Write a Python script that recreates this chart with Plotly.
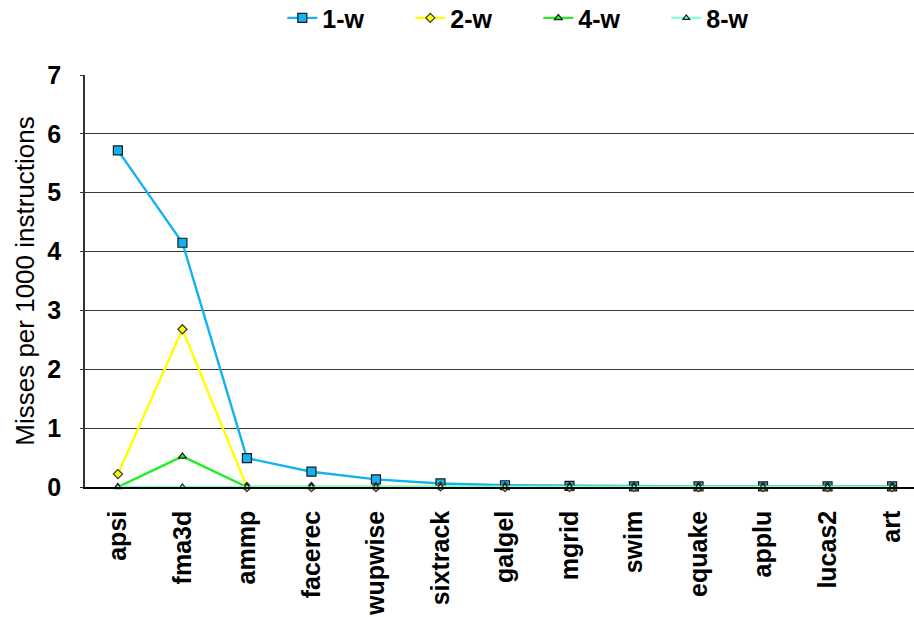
import plotly.graph_objects as go

benchmarks = ["apsi", "fma3d", "ammp", "facerec", "wupwise", "sixtrack", "galgel",
              "mgrid", "swim", "equake", "applu", "lucas2", "art"]

miss_1w = [5.72, 4.15, 0.49, 0.26, 0.13, 0.06, 0.03, 0.02, 0.01, 0.01, 0.01, 0.01, 0.01]
miss_2w = [0.22, 2.68, 0.0, 0.0, 0.0, 0.01, 0.0, 0.0, 0.0, 0.0, 0.0, 0.0, 0.0]
miss_4w = [0.0, 0.52, 0.0, 0.0, 0.0, 0.0, 0.0, 0.0, 0.0, 0.0, 0.0, 0.0, 0.0]
miss_8w = [0.0, 0.0, 0.0, 0.0, 0.0, 0.0, 0.0, 0.0, 0.0, 0.0, 0.0, 0.0, 0.0]

y_ticks = [0, 1, 2, 3, 4, 5, 6, 7]

FONT = "Liberation Sans, Arial, sans-serif"

series = [
    ("1-w", miss_1w, "#12B3F0", "square", 9, "#1a1a1a"),
    ("2-w", miss_2w, "#FFFF00", "diamond", 7, "#333333"),
    ("4-w", miss_4w, "#22EE22", "triangle-up", 7, "#1a1a1a"),
    ("8-w", miss_8w, "#80FFE0", "triangle-up", 6, "#1a1a1a"),
]

fig = go.Figure()
for name, vals, color, symbol, size, edge in series:
    fig.add_trace(go.Scatter(
        x=list(range(len(benchmarks))), y=vals, name=name, mode="lines+markers",
        line=dict(color=color, width=2.4),
        marker=dict(symbol=symbol, size=size, color=color, line=dict(color=edge, width=1.2)),
        cliponaxis=False,
    ))

fig.update_layout(
    width=914, height=617,
    margin=dict(l=85, r=0, t=75, b=130, autoexpand=False),
    plot_bgcolor="white", paper_bgcolor="white",
    font=dict(family=FONT, color="black", size=25),
    showlegend=True,
    legend=dict(
        orientation="h", x=0.238, xanchor="left", y=1.138, yanchor="middle",
        font=dict(family=FONT, size=25, weight="bold"),
        entrywidth=83, entrywidthmode="pixels",
        bgcolor="rgba(0,0,0,0)",
    ),
    xaxis=dict(
        range=[-0.51, 12.34], tickmode="array",
        tickvals=list(range(len(benchmarks))), ticktext=benchmarks,
        tickangle=-90, tickfont=dict(family=FONT, size=25, weight="bold"),
        showgrid=False, zeroline=False, showline=True, linecolor="black", linewidth=1.5,
        ticks="", ticklabelstandoff=12,
    ),
    yaxis=dict(
        range=[0, 7], tickmode="array", tickvals=y_ticks,
        tickfont=dict(family=FONT, size=25, weight="bold"),
        showgrid=True, gridcolor="#3a3a3a", gridwidth=1.2,
        zeroline=False, showline=True, linecolor="#333333", linewidth=1.5,
        ticks="outside", ticklen=3, tickcolor="#333333", ticklabelstandoff=14,
        title=dict(text="Misses per 1000 instructions", font=dict(family=FONT, size=26), standoff=5),
    ),
)

fig.write_html("out.html")
